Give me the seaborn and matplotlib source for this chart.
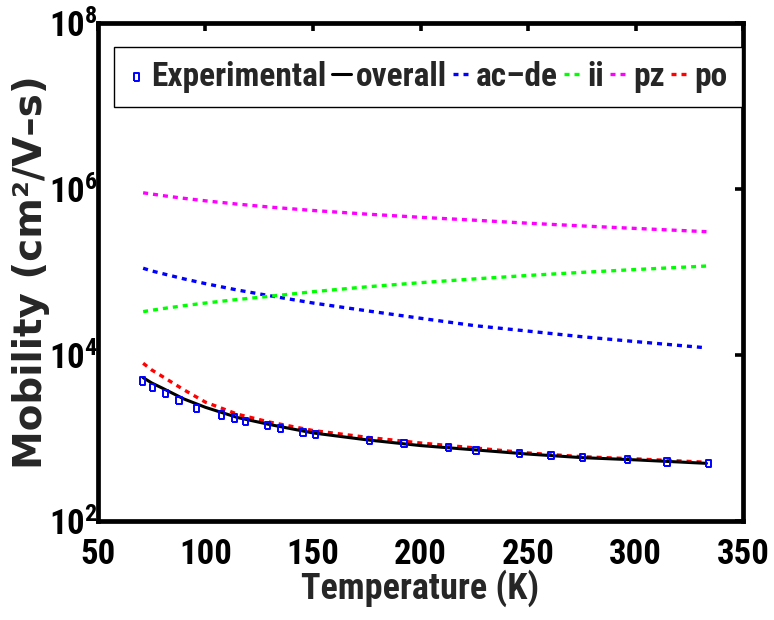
import numpy as np
import pandas as pd
import matplotlib
matplotlib.use("Agg")
import matplotlib.pyplot as plt
from matplotlib import font_manager
from matplotlib.ticker import FixedLocator, FuncFormatter, NullLocator
import seaborn as sns

# Measured mobility of the sample
T_exp = [70.8, 75.4, 81.3, 87.7, 95.9, 107.5, 113.4, 118.7, 128.9, 135.0, 145.3,
         151.2, 176.2, 192.3, 212.9, 225.8, 246.0, 260.7, 275.3, 296.3, 314.7, 333.9]
mu_exp = [4860, 4080, 3460, 2820, 2280, 1890, 1740, 1570, 1410, 1290, 1170,
          1100, 938, 863, 773, 703, 647, 612, 585, 548, 514, 490]

# Calculated mobility limited by each scattering mechanism
T_model = [71, 75, 80, 90, 100, 115, 130, 150, 175, 200, 225, 250, 275, 300, 333]
mu_overall = [5330, 4600, 3980, 2950, 2340, 1760, 1450, 1150, 950, 810, 720, 640, 580, 545, 495]
mu_acde = [1.11e5, 1.03e5, 9.56e4, 8.26e4, 7.24e4, 6.05e4, 5.17e4, 4.23e4, 3.41e4,
           2.77e4, 2.26e4, 1.94e4, 1.66e4, 1.45e4, 1.22e4]
mu_ii = [3.33e4, 3.46e4, 3.62e4, 3.93e4, 4.23e4, 4.67e4, 5.10e4, 5.79e4, 6.63e4,
         7.44e4, 8.25e4, 9.09e4, 9.90e4, 1.071e5, 1.18e5]
mu_pz = [9.0e5, 8.7e5, 8.33e5, 7.72e5, 7.2e5, 6.57e5, 6.05e5, 5.51e5, 4.98e5,
         4.56e5, 4.21e5, 3.87e5, 3.59e5, 3.35e5, 3.06e5]
mu_po = [7950, 6600, 5500, 3800, 2700, 1930, 1550, 1230, 1020, 870, 760, 660, 595, 560, 510]

legend_order = ["Experimental", "overall", "ac\u2013de", "ii", "pz", "po"]

sns.set_style("white")
names = {f.name for f in font_manager.fontManager.ttflist}
narrow = next((n for n in ["Liberation Sans Narrow", "Roboto Condensed", "Open Sans Condensed"]
               if n in names), "Liberation Sans")
plt.rcParams["font.family"] = [narrow, "DejaVu Sans"]
plt.rcParams["font.weight"] = "bold"
plt.rcParams["mathtext.fontset"] = "custom"
plt.rcParams["mathtext.rm"] = f"{narrow}:bold"
plt.rcParams["mathtext.bf"] = f"{narrow}:bold"
plt.rcParams["mathtext.it"] = f"{narrow}:bold"
plt.rcParams["mathtext.default"] = "rm"

fig = plt.figure(figsize=(7.74, 6.2), dpi=100)
ax = fig.add_axes([0.1266, 0.1597, 0.8334, 0.8032])
ax.set_yscale("log")

model = [
    ("overall", mu_overall, "black", None),
    ("ac\u2013de", mu_acde, "#0000ff", (1.5, 1.5)),
    ("ii", mu_ii, "#00ff00", (1.5, 1.5)),
    ("pz", mu_pz, "#ff00ff", (1.5, 1.5)),
    ("po", mu_po, "#ff0000", (1.5, 1.5)),
]
for label, mu, color, dash in model:
    df = pd.DataFrame({"T": T_model, "mu": mu})
    sns.lineplot(data=df, x="T", y="mu", color=color, linewidth=2.4,
                 label=label, ax=ax, legend=False, estimator=None, sort=False)
    line = ax.lines[-1]
    if dash is not None:
        line.set_dashes(dash)
    else:
        line.set_linestyle("-")
        line.set_linewidth(2.2)
        line.set_zorder(3)

rect = [(-0.72, -1), (0.72, -1), (0.72, 1), (-0.72, 1), (-0.72, -1)]
exp_df = pd.DataFrame({"T": T_exp, "mu": mu_exp})
sns.scatterplot(data=exp_df, x="T", y="mu", marker=rect, s=28, color="#0000ff",
                linewidth=1.4, label="Experimental", ax=ax, legend=False, zorder=4)
coll = ax.collections[-1]
coll.set_facecolor("none")
coll.set_edgecolor("#0000ff")

ax.set_xlim(50, 350)
ax.set_ylim(1e2, 1e8)
ax.set_xticks([50, 100, 150, 200, 250, 300, 350])
ax.yaxis.set_major_locator(FixedLocator([1e2, 1e4, 1e6, 1e8]))
ax.yaxis.set_minor_locator(NullLocator())
ax.yaxis.set_major_formatter(FuncFormatter(lambda v, p: r"$10^{%d}$" % round(np.log10(v))))

for s in ax.spines.values():
    s.set_linewidth(3.4)
    s.set_color("black")
ax.tick_params(which="both", direction="in", top=True, right=True,
               length=6, width=2.6, labelsize=25, colors="black")
ax.tick_params(axis="x", pad=12)
ax.tick_params(axis="y", pad=0)

ax.set_xlabel("Temperature (K)", fontsize=26, fontweight="bold", labelpad=-1)
ax.set_ylabel("Mobility (cm\u00b2/V\u2013s)", fontsize=28, fontweight="bold",
              family="DejaVu Sans")
ax.yaxis.set_label_coords(-0.075, 0.5)

h, l = ax.get_legend_handles_labels()
handles = [h[l.index(k)] for k in legend_order]
leg = ax.legend(handles, legend_order, ncol=6, loc="upper right",
                bbox_to_anchor=(0.998, 0.952), frameon=True, fancybox=False,
                edgecolor="black", framealpha=1, handlelength=0.55,
                handletextpad=0.15, columnspacing=0.18, borderpad=0.42,
                borderaxespad=0, scatterpoints=1,
                prop={"family": narrow, "weight": "bold", "size": 24})
leg.get_frame().set_linewidth(1.0)

fig.savefig("out.png", dpi=100, facecolor="white")
